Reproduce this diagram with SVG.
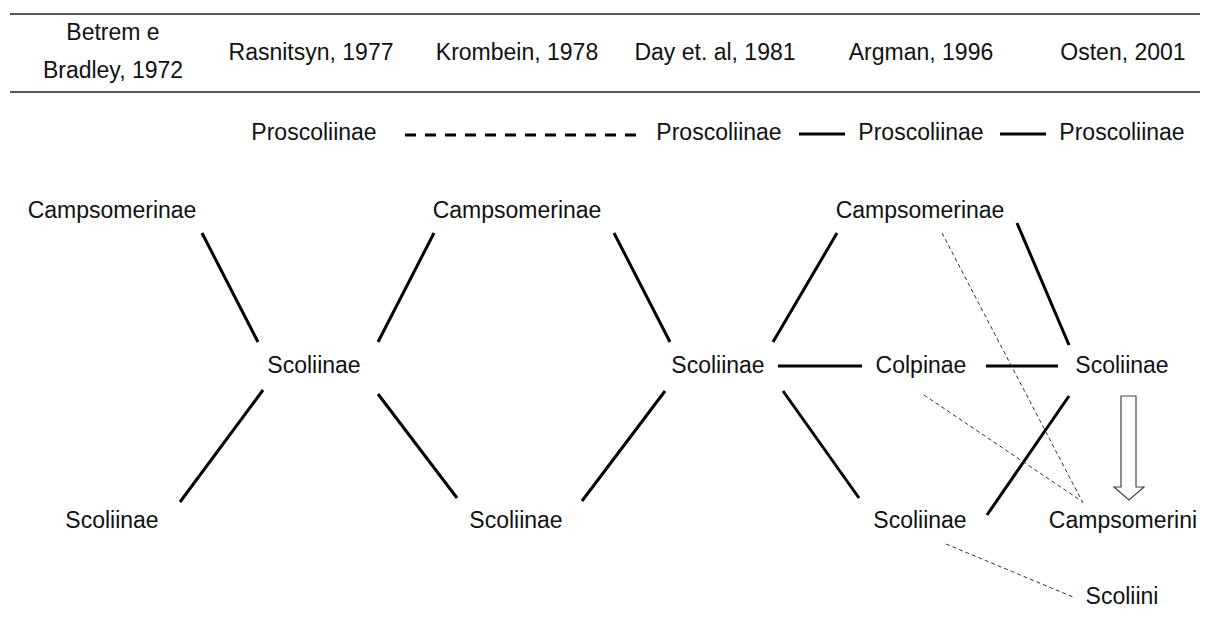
<svg xmlns="http://www.w3.org/2000/svg" width="1210" height="627" viewBox="0 0 1210 627">
<style>
text{font-family:"Liberation Sans",Arial,sans-serif;font-size:23px;fill:#111;text-anchor:middle}
.rule{stroke:#222;stroke-width:1.5}
.thick{stroke:#000;stroke-width:3;stroke-linecap:butt}
.dash{stroke:#000;stroke-width:3;stroke-dasharray:11 9}
.thin{stroke:#333;stroke-width:1;stroke-dasharray:4 3}
</style>
<rect width="1210" height="627" fill="#fff"/>
<g id="header">
<line class="rule" x1="10" y1="14" x2="1200" y2="14"/>
<line class="rule" x1="10" y1="92" x2="1200" y2="92"/>
<text x="113" y="40">Betrem e</text>
<text x="113" y="78">Bradley, 1972</text>
<text x="311" y="60">Rasnitsyn, 1977</text>
<text x="517" y="60">Krombein, 1978</text>
<text x="715" y="60">Day et. al, 1981</text>
<text x="921" y="60">Argman, 1996</text>
<text x="1123" y="60">Osten, 2001</text>
</g>
<g id="connectors">
<line class="dash" x1="405" y1="135" x2="640" y2="135"/>
<line class="thick" x1="799" y1="134" x2="845" y2="134"/>
<line class="thick" x1="1000" y1="134" x2="1046" y2="134"/>
<line class="thick" x1="202" y1="233" x2="258" y2="342"/>
<line class="thick" x1="434" y1="233" x2="378" y2="342"/>
<line class="thick" x1="614" y1="233" x2="670" y2="342"/>
<line class="thick" x1="837" y1="233" x2="773" y2="342"/>
<line class="thick" x1="1017" y1="223" x2="1069" y2="345"/>
<line class="thick" x1="263" y1="390" x2="180" y2="502"/>
<line class="thick" x1="378" y1="394" x2="457" y2="498"/>
<line class="thick" x1="665" y1="391" x2="582" y2="501"/>
<line class="thick" x1="783" y1="391" x2="859" y2="498"/>
<line class="thick" x1="778" y1="366" x2="862" y2="366"/>
<line class="thick" x1="986" y1="366" x2="1058" y2="366"/>
<line class="thick" x1="1069" y1="396" x2="987" y2="515"/>
<line class="thin" x1="942" y1="233" x2="1083" y2="503"/>
<line class="thin" x1="924" y1="395" x2="1080" y2="500"/>
<line class="thin" x1="946" y1="544" x2="1073" y2="597"/>
<path d="M1121,396 H1136 V487 H1144 L1129,500 L1114,487 H1121 Z" fill="#fff" stroke="#444" stroke-width="1.2"/>
</g>
<g id="n-pro1"><text x="314" y="140">Proscoliinae</text></g>
<g id="n-pro2"><text x="719" y="140">Proscoliinae</text></g>
<g id="n-pro3"><text x="921" y="140">Proscoliinae</text></g>
<g id="n-pro4"><text x="1122" y="140">Proscoliinae</text></g>
<g id="n-camp1"><text x="112" y="218">Campsomerinae</text></g>
<g id="n-camp2"><text x="517" y="218">Campsomerinae</text></g>
<g id="n-camp3"><text x="920" y="218">Campsomerinae</text></g>
<g id="n-scol1"><text x="314" y="373">Scoliinae</text></g>
<g id="n-scol2"><text x="718" y="373">Scoliinae</text></g>
<g id="n-colp"><text x="921" y="373">Colpinae</text></g>
<g id="n-scol3"><text x="1122" y="373">Scoliinae</text></g>
<g id="n-scol4"><text x="112" y="528">Scoliinae</text></g>
<g id="n-scol5"><text x="516" y="528">Scoliinae</text></g>
<g id="n-scol6"><text x="920" y="528">Scoliinae</text></g>
<g id="n-campi"><text x="1123" y="528">Campsomerini</text></g>
<g id="n-scolini"><text x="1122" y="604">Scoliini</text></g>
</svg>
